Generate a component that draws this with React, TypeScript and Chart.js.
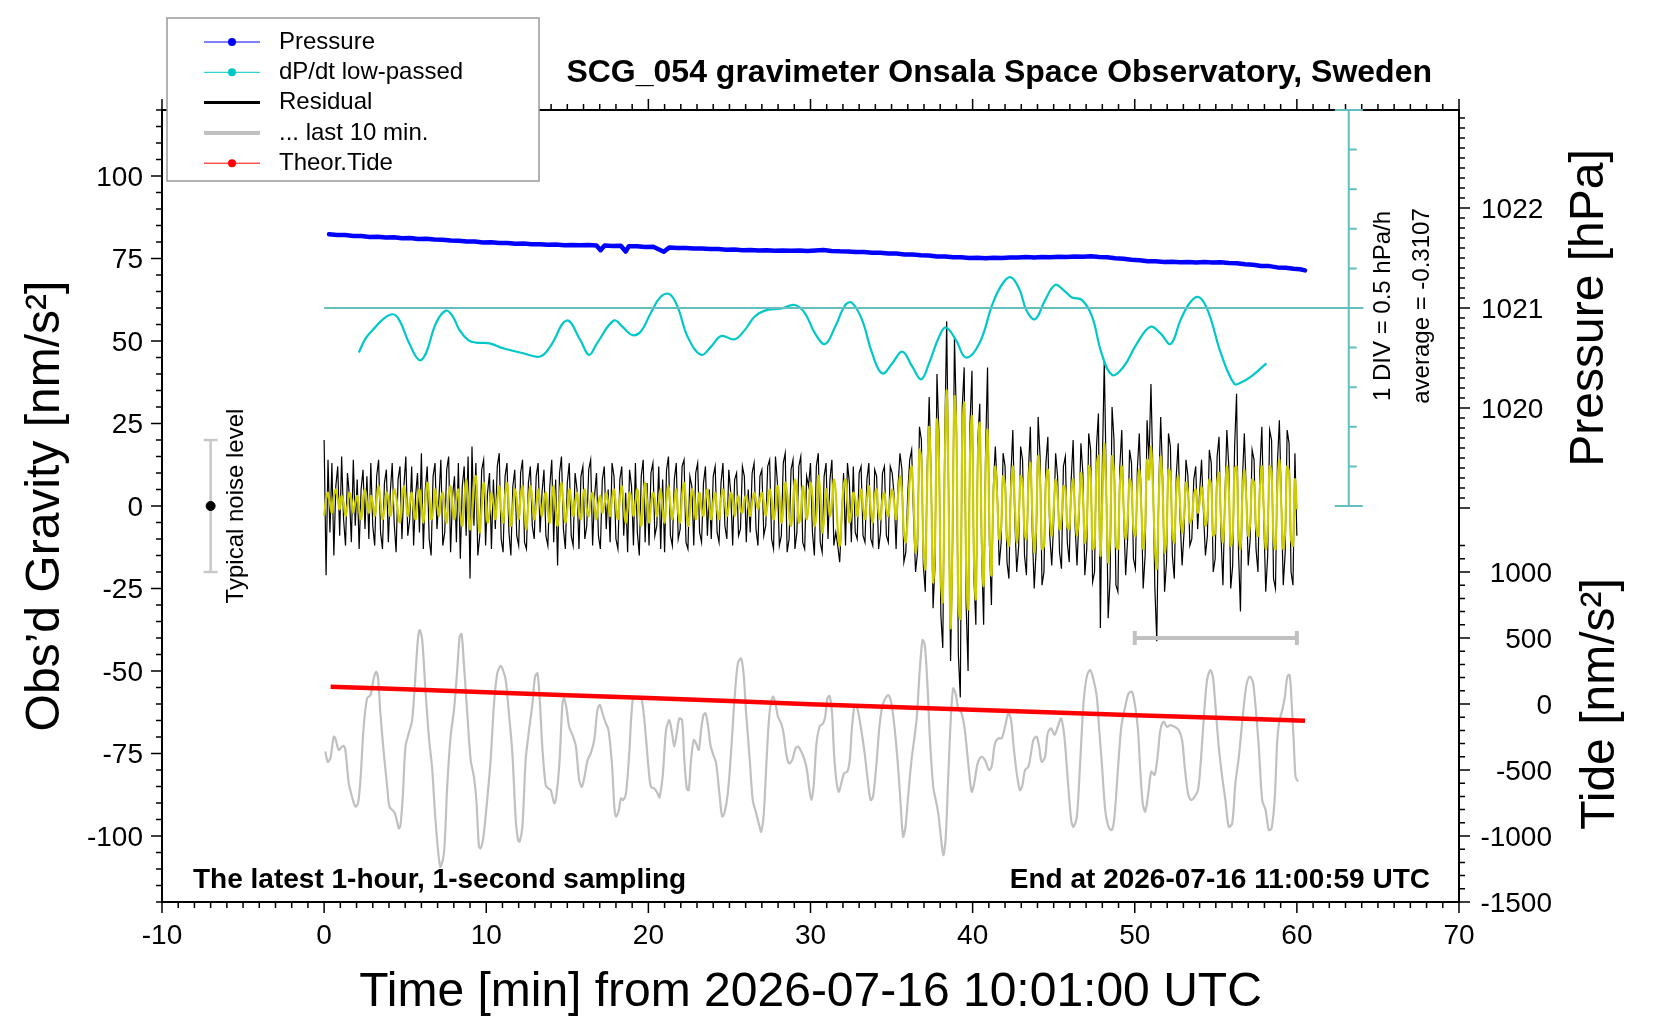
import { useEffect, useRef } from "react";
import Chart from "chart.js/auto";

const FONT = '"Liberation Sans", Arial, Helvetica, sans-serif';
const BLUE = "rgb(0, 0, 255)";
const CYAN = "rgb(0, 200, 200)";
const TEAL = "rgb(100, 190, 190)";
const GRAY = "rgb(192, 192, 192)";
const YELLOW = "rgb(205, 205, 0)";
const RED = "rgb(255, 0, 0)";

// residual gravity [nm/s^2], one value every 0.12 min from t = 0
const residualStep = 0.12;
const residual = [
  20, -21, 14, -8, 13, -15, 6, 12, -9, 15, -4, -12, 10, 3, -11, 14, -6, 8, -13, 5, 11, -7, 9, -10, 13,
  -6, -12, 9, 14, -8, -13, 7, 11, -11, 4, 13, -5, -14, 8, 12, -10, 6, 15, -9, -4, 12, -12, 3, 10, -8,
  16, -13, 5, 12, -10, -15, 9, 13, -7, 2, 14, -12, -8, 11, 15, -14, 3, 9, -11, 13, -16, 6, 12, -9, 15,
  -22, 18, -6, 13, -15, -9, 11, 14, -12, 4, 10, -13, 8, -7, 12, 16, -10, -14, 9, 13, -8, -15, 6, 11, -9,
  -12, 10, 14, -11, -13, 7, 12, -6, -10, 9, 13, -8, 4, 11, -9, -12, 6, 14, -11, 8, -18, 10, 15, -7, -13,
  7, 13, -9, -12, 10, 5, -13, 9, 12, -10, -6, 11, 14, -12, 3, 10, -9, -13, 8, 12, -7, 5, -11, 13, 9,
  -10, -13, 8, 12, -9, 4, -14, 11, 6, -12, 13, -8, -15, 9, 14, -11, 7, -12, 10, 13, -9, -6, 12, -13, 8,
  -14, 11, 15, -9, -12, 8, 13, -10, -7, 12, 14, -11, -13, 9, 6, -12, 10, 13, -8, -11, 7, 12, -9, 5, -10,
  9, 12, -8, -11, 7, 13, -6, -10, 11, 4, -12, 8, 10, -9, -7, 12, 9, -11, 5, -8, 10, 13, -7, -12, 9,
  11, -9, -6, 12, 14, -10, -13, 15, 7, -12, -9, 13, 16, -14, -10, 11, 14, -13, -8, 12, 15, -11, -13, 9, 6,
  13, -8, -15, 12, 16, -11, -14, 9, 13, -10, 8, 14, -12, -8, -12, -17, -4, 10, -12, 13, 7, -11, 12, -8, -10,
  10, 12, -9, -11, 8, 13, -10, -12, 11, 9, -13, -8, 10, 12, -9, -11, 12, 10, 3, -13, 6, 16, 11, -17, -14,
  4, 14, 17, -4, -20, -14, 24, 20, -18, -26, 12, 33, 9, -31, -18, 40, 22, -33, -43, 20, 56, 4, -47, -14, 51,
  26, -45, -58, 30, 42, -30, -50, 25, 41, -22, -36, 20, 31, -15, -36, 17, 42, -12, -30, 6, 18, 5, -18, -11, 16,
  12, -17, -22, 9, 23, -4, -20, -12, 18, 14, -15, -21, 10, 24, -8, -25, -13, 27, 15, -24, -20, 13, 21, -9, -18,
  -5, 16, 9, -14, -19, 12, 15, -11, -17, 8, 20, -6, -18, -3, 19, 10, -21, -13, 22, 17, -23, -20, 18, 28, -37,
  12, 44, 8, -34, -22, 30, 20, -24, -26, 12, 23, -3, -21, -10, 17, 13, -16, -19, 11, 22, 2, -25, -15, 26, 14,
  37, 10, -25, -41, 5, 27, 9, -26, -17, 22, 18, -15, -22, 9, 19, -4, -18, -8, 14, 9, -12, -10, 8, 12, -7,
  4, 14, -2, -15, -9, 17, 13, -20, -16, 15, 21, -9, -24, 2, 23, 12, -25, -18, 18, 34, -14, -32, 8, 22, 4,
  -18, -10, 17, 14, -13, -20, 11, 24, -4, -26, -15, 23, 20, -22, -25, 13, 26, 2, -24, -14, 23, 19, -20, -24, 16,
  -9,
];

// band-passed residual (yellow), same time grid
const filtered = [
  -3, 2, 4, 1, -2, 3, 5, 2, -1, 3, 1, -3, 0, 4, 2, -2, 1, 3, -1, -4, 2, 5, 1, -2, 3,
  1, -3, 2, 6, 1, -4, -1, 4, 2, -3, 0, 5, 3, -2, -5, 1, 6, 2, -3, 1, 4, -1, -4, 2, 5,
  0, -5, 1, 7, 3, -4, -2, 5, 1, -3, 2, 4, -1, -5, 3, 6, 0, -4, 2, 5, -2, -6, 1, 8, 2,
  -7, -3, 6, 9, -1, -8, 0, 7, 3, -5, -2, 4, 1, -4, 2, 6, -1, -5, 3, 7, 0, -6, -1, 5, 2,
  -4, 3, 6, -2, -7, 1, 6, 2, -4, 0, 5, 1, -3, 2, 4, -2, -5, 3, 6, -1, -6, 2, 7, 1, -5,
  -1, 5, 2, -3, 1, 4, -2, -4, 3, 5, -1, -3, 2, 4, 0, -4, 1, 3, -2, 0, 4, 1, -3, 2, 5,
  0, -4, 2, 6, 1, -5, -1, 4, 2, -3, 1, 5, -2, -6, 2, 7, 1, -5, 0, 4, 2, -3, 1, 5, -1,
  -5, 2, 6, 0, -4, 1, 5, -2, -5, 3, 7, 1, -6, -2, 5, 3, -4, 1, 4, -1, -3, 2, 5, 0, -4,
  1, 4, -1, -4, 2, 5, 1, -3, 0, 4, 2, -3, 1, 3, -1, -2, 2, 3, 0, -3, 1, 4, 2, -1, 2,
  4, 1, -3, 1, 5, 2, -4, -1, 6, 3, -5, -1, 7, 4, -3, -6, 1, 8, 3, -5, -2, 6, 2, -4, 0,
  7, 3, -6, -3, 9, 4, -8, -4, 5, 2, -3, 1, 8, 4, -7, -12, -3, 6, 8, 1, -5, -2, 4, 2, -3,
  1, 5, 0, -4, 2, 6, -1, -5, 3, 5, -2, -4, 2, 4, -1, -3, 2, 5, 1, -4, 3, 9, 4, -8, -11,
  -3, 8, 12, 2, -14, -9, 17, 14, -12, -19, 8, 24, 6, -23, -12, 26, 14, -22, -29, 12, 35, 2, -37, -8, 33,
  22, -30, -34, 20, 31, -18, -31, 15, 27, -15, -28, 14, 25, -10, -24, 10, 23, -7, -21, 3, 12, 2, -10, -6, 9,
  6, -9, -12, 4, 12, 1, -11, -4, 9, 7, -8, -10, 6, 13, -2, -14, -6, 15, 8, -13, -12, 7, 11, -3, -9,
  -1, 8, 3, -7, -4, 6, 5, -6, -7, 4, 8, -2, -9, -1, 10, 3, -11, -6, 12, 9, -13, -12, 11, 15, -15,
  2, 19, 4, -17, -9, 15, 10, -12, -13, 6, 12, -1, -10, -4, 8, 6, -7, -9, 5, 11, 0, -13, -6, 14, 8,
  18, 6, -12, -19, 2, 15, 5, -14, -9, 11, 10, -8, -11, 4, 9, 0, -8, -3, 7, 4, -5, -4, 3, 5, -2,
  1, 6, 1, -6, -3, 8, 6, -9, -8, 7, 10, -4, -11, 0, 12, 5, -12, -9, 11, 12, -7, -13, 3, 11, 2,
  -9, -5, 8, 7, -6, -9, 5, 12, -1, -13, -7, 12, 10, -10, -13, 6, 14, 0, -13, -7, 12, 10, -10, -12, 8,
  -1,
];

// last 10 min of the residual, stretched over the hour and shifted down: [t, nm/s^2]
const lastTenMin = [
  [0.07, -74.4], [0.22, -77.5], [0.38, -76.5], [0.59, -69.9], [0.69, -70.4], [0.9, -73.9], [1.1, -72.9], [1.21, -72.7],
  [1.31, -73.9], [1.52, -84.0], [1.72, -88.1], [1.93, -91.1], [2.09, -90.1], [2.24, -83.0], [2.44, -66.9], [2.65, -58.3],
  [2.86, -57.3], [3.06, -52.2], [3.21, -50.2], [3.33, -52.2], [3.47, -62.8], [3.68, -74.9], [3.89, -85.0], [4.03, -91.1],
  [4.3, -92.6], [4.4, -93.6], [4.61, -97.7], [4.71, -96.7], [4.85, -88.1], [5.02, -72.9], [5.22, -68.9], [5.43, -64.9],
  [5.64, -50.7], [5.8, -39.6], [5.9, -37.6], [6.05, -40.6], [6.25, -55.8], [6.46, -69.9], [6.67, -80.0], [6.87, -95.2],
  [7.16, -109.3], [7.39, -105.3], [7.59, -85.1], [7.8, -69.9], [8.01, -61.8], [8.21, -49.7], [8.36, -39.6], [8.48, -38.8],
  [8.62, -47.7], [8.83, -62.8], [9.04, -77.0], [9.24, -82.0], [9.39, -89.1], [9.55, -103.2], [9.65, -103.7], [9.8, -101.2],
  [9.96, -94.1], [10.13, -85.1], [10.27, -77.0], [10.48, -59.8], [10.68, -50.7], [10.89, -48.5], [11.03, -49.7], [11.2, -52.7],
  [11.36, -60.8], [11.61, -74.9], [11.82, -95.2], [11.96, -101.2], [12.06, -101.7], [12.23, -97.2], [12.43, -77.0], [12.64, -67.9],
  [12.85, -59.8], [13.01, -51.7], [13.16, -50.7], [13.3, -58.8], [13.47, -73.9], [13.67, -84.6], [13.84, -85.6], [13.98, -86.1],
  [14.19, -90.1], [14.29, -89.1], [14.5, -79.0], [14.7, -59.8], [14.8, -58.3], [14.95, -61.3], [15.11, -66.9], [15.32, -69.4],
  [15.53, -72.9], [15.73, -83.0], [15.9, -85.1], [16.1, -81.0], [16.25, -77.0], [16.45, -74.9], [16.66, -70.9], [16.86, -61.8],
  [17.01, -60.3], [17.17, -62.8], [17.38, -65.9], [17.54, -67.9], [17.75, -78.0], [17.9, -91.1], [18.0, -94.1], [18.16, -92.6],
  [18.31, -88.6], [18.45, -89.1], [18.62, -87.1], [18.82, -74.9], [19.03, -58.8], [19.23, -57.8], [19.44, -58.3], [19.6, -58.8],
  [19.81, -67.9], [20.02, -80.0], [20.16, -85.1], [20.37, -85.6], [20.57, -87.1], [20.68, -88.3], [20.88, -82.0], [21.09, -67.9],
  [21.29, -64.9], [21.46, -68.9], [21.6, -72.9], [21.75, -68.9], [21.91, -64.4], [22.08, -64.9], [22.22, -77.0], [22.37, -85.6],
  [22.49, -86.1], [22.63, -77.0], [22.8, -70.9], [22.94, -71.9], [23.11, -73.9], [23.25, -67.9], [23.4, -63.3], [23.52, -62.8],
  [23.66, -65.9], [23.83, -72.4], [24.01, -75.5], [24.18, -78.0], [24.38, -87.1], [24.55, -94.1], [24.69, -93.1], [24.9, -87.1],
  [25.11, -73.9], [25.31, -58.8], [25.52, -47.7], [25.72, -46.2], [25.87, -50.7], [26.03, -62.8], [26.24, -76.0], [26.44, -89.1],
  [26.65, -93.1], [26.86, -97.2], [26.96, -98.7], [27.12, -93.1], [27.27, -79.0], [27.47, -62.8], [27.68, -57.8], [27.84, -59.8],
  [27.99, -63.8], [28.19, -65.9], [28.34, -68.9], [28.5, -74.9], [28.67, -78.0], [28.87, -77.0], [29.08, -73.4], [29.22, -72.9],
  [29.43, -74.4], [29.64, -77.0], [29.78, -80.0], [29.91, -85.1], [30.05, -89.1], [30.19, -85.1], [30.36, -72.4], [30.56, -66.9],
  [30.77, -65.9], [30.91, -63.8], [31.04, -58.3], [31.18, -57.6], [31.33, -62.8], [31.45, -74.9], [31.59, -83.0], [31.74, -86.6],
  [31.9, -84.0], [32.07, -81.0], [32.27, -80.5], [32.42, -77.0], [32.56, -66.9], [32.73, -60.3], [32.89, -61.3], [33.1, -66.9],
  [33.34, -74.9], [33.55, -84.0], [33.71, -89.1], [33.86, -88.1], [34.07, -78.0], [34.27, -65.9], [34.48, -59.8], [34.79, -57.3],
  [34.99, -59.8], [35.2, -67.9], [35.4, -79.0], [35.57, -91.1], [35.71, -100.2], [35.86, -97.2], [36.02, -88.1], [36.23, -77.0],
  [36.54, -64.9], [36.74, -49.7], [36.91, -40.6], [37.05, -42.1], [37.22, -54.8], [37.36, -69.9], [37.57, -85.1], [37.77, -90.1],
  [37.88, -93.1], [38.04, -100.2], [38.19, -105.8], [38.33, -101.2], [38.49, -83.0], [38.66, -63.8], [38.8, -55.3], [38.95, -56.8],
  [39.11, -61.3], [39.32, -62.8], [39.52, -67.9], [39.73, -78.0], [39.94, -86.6], [40.1, -84.0], [40.31, -78.0], [40.55, -76.0],
  [40.76, -77.0], [41.01, -80.0], [41.17, -79.0], [41.38, -71.9], [41.58, -70.4], [41.79, -70.4], [42.0, -66.9], [42.2, -62.8],
  [42.37, -64.9], [42.53, -72.9], [42.72, -81.0], [42.92, -86.1], [43.07, -84.6], [43.23, -80.0], [43.44, -79.0], [43.6, -74.9],
  [43.75, -70.9], [43.95, -69.9], [44.1, -72.9], [44.26, -77.5], [44.47, -76.0], [44.63, -68.9], [44.84, -67.4], [45.05, -69.4],
  [45.25, -66.9], [45.46, -64.4], [45.66, -69.9], [45.87, -83.0], [46.08, -95.2], [46.22, -97.2], [46.43, -94.1], [46.63, -78.0],
  [46.84, -59.8], [47.04, -51.7], [47.25, -49.7], [47.46, -52.7], [47.66, -57.8], [47.81, -67.9], [47.97, -78.0], [48.18, -92.1],
  [48.38, -97.2], [48.59, -98.2], [48.75, -94.1], [48.96, -80.0], [49.17, -66.9], [49.41, -60.8], [49.62, -56.8], [49.83, -56.3],
  [50.03, -60.8], [50.2, -67.9], [50.34, -80.0], [50.49, -90.1], [50.65, -92.6], [50.86, -86.1], [51.02, -80.5], [51.23, -81.5],
  [51.43, -74.9], [51.58, -67.9], [51.78, -65.4], [51.99, -66.9], [52.19, -66.4], [52.46, -66.9], [52.71, -67.9], [52.92, -70.9],
  [53.08, -79.0], [53.29, -87.1], [53.49, -89.1], [53.7, -88.1], [53.9, -86.1], [54.05, -79.0], [54.25, -64.9], [54.46, -52.7],
  [54.67, -49.7], [54.83, -52.2], [54.98, -60.8], [55.18, -72.9], [55.39, -82.0], [55.59, -89.1], [55.8, -97.2], [56.01, -96.2],
  [56.21, -84.0], [56.42, -76.0], [56.62, -65.9], [56.87, -54.8], [57.08, -51.7], [57.28, -53.2], [57.45, -60.8], [57.65, -72.9],
  [57.86, -89.1], [58.07, -92.1], [58.27, -98.2], [58.44, -97.7], [58.64, -88.1], [58.79, -70.9], [58.93, -64.9], [59.1, -61.8],
  [59.26, -57.8], [59.41, -51.7], [59.55, -51.2], [59.67, -58.8], [59.82, -72.9], [59.92, -82.0], [60.07, -83.5],
];

// dP/dt low-passed, in plot units: 60 is zero, 12 units (1 DIV) = 0.5 hPa/h
const dpdtTrace = [
  [2.14, 46.5], [2.56, 50.8], [3.18, 54.3], [3.59, 56.4], [4.21, 58.1], [4.63, 56.4], [5.25, 49.3], [5.87, 44.2],
  [6.28, 46.3], [6.9, 55.4], [7.52, 59.2], [7.94, 57.4], [8.35, 53.3], [8.89, 50.3], [9.39, 49.5], [10.21, 49.3],
  [11.04, 47.8], [12.28, 46.3], [13.32, 45.3], [13.94, 48.3], [14.97, 56.2], [15.8, 50.3], [16.34, 45.8], [16.83, 49.3],
  [17.87, 56.2], [18.41, 54.3], [18.99, 51.8], [19.52, 52.8], [20.14, 58.4], [20.76, 63.4], [21.3, 64.2], [21.8, 60.4],
  [22.42, 51.3], [23.25, 45.8], [23.87, 48.3], [24.49, 51.5], [25.31, 50.5], [25.94, 53.3], [26.56, 57.4], [27.18, 59.2],
  [28.21, 59.9], [29.04, 60.9], [29.66, 58.4], [30.28, 52.3], [30.9, 49.1], [31.52, 54.3], [32.14, 60.9], [32.55, 61.6],
  [33.18, 56.4], [33.8, 46.3], [34.42, 40.2], [35.04, 43.2], [35.66, 46.8], [36.28, 42.2], [36.82, 38.4], [37.31, 43.2],
  [37.93, 51.3], [38.35, 54.1], [38.97, 50.3], [39.59, 45.0], [40.42, 49.3], [41.24, 61.4], [41.86, 67.5], [42.36, 69.3],
  [42.9, 65.5], [43.31, 59.4], [43.85, 56.6], [44.47, 62.4], [45.09, 67.0], [45.59, 65.5], [46.13, 63.2], [46.75, 62.4],
  [47.37, 57.4], [47.95, 46.3], [48.61, 39.7], [49.31, 42.2], [50.14, 49.3], [50.97, 54.3], [51.59, 52.3], [52.21, 49.1],
  [52.83, 56.4], [53.45, 61.9], [53.99, 63.2], [54.57, 58.4], [55.31, 46.3], [56.14, 37.0], [56.55, 37.4], [57.17, 39.2],
  [58.12, 43.2],
];

// air pressure [hPa]
const pressureTime = [
  0.3, 0.8, 1.3, 1.8, 2.3, 2.8, 3.3, 3.8, 4.3, 4.8, 5.3, 5.8, 6.3, 6.8, 7.3, 7.8, 8.3, 8.8, 9.3, 9.8,
  10.3, 10.8, 11.3, 11.8, 12.3, 12.8, 13.3, 13.8, 14.3, 14.8, 15.3, 15.8, 16.3, 16.8, 17.05, 17.3, 17.8,
  18.3, 18.6, 18.8, 19.3, 19.8, 20.3, 20.95, 21.3, 21.8, 22.3, 22.8, 23.3, 23.8, 24.3, 24.8, 25.3, 25.8,
  26.3, 26.8, 27.3, 27.8, 28.3, 28.8, 29.3, 29.8, 30.3, 30.8, 31.3, 31.8, 32.3, 32.8, 33.3, 33.8, 34.3,
  34.8, 35.3, 35.8, 36.3, 36.8, 37.3, 37.8, 38.3, 38.8, 39.3, 39.8, 40.3, 40.8, 41.3, 41.8, 42.3, 42.8,
  43.3, 43.8, 44.3, 44.8, 45.3, 45.8, 46.3, 46.8, 47.3, 47.8, 48.3, 48.8, 49.3, 49.8, 50.3, 50.8, 51.3,
  51.8, 52.3, 52.8, 53.3, 53.8, 54.3, 54.8, 55.3, 55.8, 56.3, 56.8, 57.3, 57.8, 58.3, 58.8, 59.3, 59.8,
  60.2, 60.5,
];
const pressureHpa = [
  1021.738, 1021.731, 1021.729, 1021.72, 1021.719, 1021.711, 1021.713, 1021.705, 1021.707, 1021.698,
  1021.699, 1021.69, 1021.692, 1021.684, 1021.683, 1021.674, 1021.673, 1021.665, 1021.664, 1021.656,
  1021.657, 1021.65, 1021.651, 1021.643, 1021.645, 1021.637, 1021.638, 1021.632, 1021.634, 1021.627,
  1021.629, 1021.628, 1021.631, 1021.624, 1021.578, 1021.625, 1021.621,
  1021.623, 1021.565, 1021.618, 1021.617, 1021.611, 1021.613, 1021.562, 1021.606, 1021.601, 1021.601,
  1021.595, 1021.596, 1021.59, 1021.589, 1021.583, 1021.584, 1021.578,
  1021.579, 1021.575, 1021.577, 1021.573, 1021.576, 1021.572, 1021.575, 1021.571, 1021.576, 1021.58,
  1021.571, 1021.567, 1021.566, 1021.559, 1021.56, 1021.553, 1021.552,
  1021.545, 1021.545, 1021.536, 1021.535, 1021.527, 1021.526, 1021.516, 1021.514, 1021.508, 1021.507,
  1021.501, 1021.503, 1021.497, 1021.502, 1021.5, 1021.505, 1021.504,
  1021.509, 1021.506, 1021.511, 1021.508, 1021.512, 1021.51, 1021.514, 1021.512, 1021.517, 1021.511,
  1021.508, 1021.498, 1021.493, 1021.482, 1021.478, 1021.468, 1021.467,
  1021.461, 1021.463, 1021.458, 1021.461, 1021.456, 1021.459, 1021.454, 1021.457, 1021.449, 1021.447,
  1021.438, 1021.433, 1021.421, 1021.419, 1021.406, 1021.403, 1021.392,
  1021.388, 1021.376,
];

// theoretical tide [nm/s^2]
const tideTime = [0.4, 5, 10, 15, 20, 25, 30, 35, 40, 45, 50, 55, 60.5];
const tideValue = [131, 111, 89, 67, 45, 22, -2, -23, -44, -64, -85, -105, -126];

const dpdtZero = 60;
const dpdtZeroSpan = [0, 64.1];
const divAxisAt = 63.2;
const divStep = 12;
const divCount = 10;
const noiseAt = -7;
const noiseLevel = 20;
const lastTenSpan = [50, 60];
const lastTenLevel = -40;

const pressureLabels = [1020, 1021, 1022];
const tideLabels = [1000, 500, 0, -500, -1000, -1500];

const legendItems = [
  { label: "Pressure", color: BLUE, width: 1, dot: true },
  { label: "dP/dt low-passed", color: CYAN, width: 1, dot: true },
  { label: "Residual", color: "#000", width: 3, dot: false },
  { label: "... last 10 min.", color: GRAY, width: 4, dot: false },
  { label: "Theor.Tide", color: RED, width: 1, dot: true },
];

function put(ctx: any, s: string, x: number, y: number, font: string, align = "left", rot = 0) {
  ctx.save();
  ctx.translate(x, y);
  if (rot) ctx.rotate(rot);
  ctx.font = font;
  ctx.textAlign = align;
  ctx.textBaseline = "middle";
  ctx.fillStyle = "#000";
  ctx.fillText(s, 0, 0);
  ctx.restore();
}

const decor = {
  id: "decor",
  afterDraw(chart: any) {
    const { ctx, chartArea: a, scales } = chart;
    const { x, y, pres, tide } = scales;
    ctx.save();

    // frame and ticks
    ctx.strokeStyle = "#000";
    ctx.lineWidth = 2;
    ctx.strokeRect(a.left, a.top, a.right - a.left, a.bottom - a.top);
    ctx.lineWidth = 1.5;
    ctx.beginPath();
    for (let v = -10; v <= 70; v++) {
      const px = x.getPixelForValue(v);
      const len = v % 10 === 0 ? 11 : 6;
      ctx.moveTo(px, a.bottom);
      ctx.lineTo(px, a.bottom + len);
      ctx.moveTo(px, a.top);
      ctx.lineTo(px, a.top - len);
    }
    for (let v = -120; v <= 120; v += 5) {
      const py = y.getPixelForValue(v);
      const len = v % 25 === 0 ? 11 : 6;
      ctx.moveTo(a.left, py);
      ctx.lineTo(a.left - len, py);
    }
    for (let k = 10190; k <= 10229; k++) {
      const py = pres.getPixelForValue(k / 10);
      const len = k % 10 === 0 ? 11 : 6;
      ctx.moveTo(a.right, py);
      ctx.lineTo(a.right + len, py);
    }
    for (let v = -1500; v <= 1200; v += 100) {
      const py = tide.getPixelForValue(v);
      const len = v % 500 === 0 ? 11 : 6;
      ctx.moveTo(a.right, py);
      ctx.lineTo(a.right + len, py);
    }
    ctx.stroke();

    // tide labels and right titles
    for (const v of tideLabels) {
      put(ctx, String(v), a.right + 93, tide.getPixelForValue(v) + 2, `28px ${FONT}`, "right");
    }
    put(ctx, "Pressure [hPa]", a.right + 131, pres.getPixelForValue(1021), `48px ${FONT}`, "center", -Math.PI / 2);
    put(ctx, "Tide [nm/s²]", a.right + 142, tide.getPixelForValue(0), `48px ${FONT}`, "center", -Math.PI / 2);

    // dP/dt scale bar
    const dx = x.getPixelForValue(divAxisAt);
    const y0 = y.getPixelForValue(0);
    const y1 = y.getPixelForValue(divStep * divCount);
    ctx.strokeStyle = TEAL;
    ctx.lineWidth = 2;
    ctx.beginPath();
    ctx.moveTo(dx, y0);
    ctx.lineTo(dx, y1);
    ctx.moveTo(dx - 14, y0);
    ctx.lineTo(dx + 14, y0);
    ctx.moveTo(dx - 14, y1);
    ctx.lineTo(dx + 14, y1);
    for (let i = 1; i < divCount; i++) {
      const py = y.getPixelForValue(i * divStep);
      ctx.moveTo(dx, py);
      ctx.lineTo(dx + 8, py);
    }
    ctx.stroke();
    const ym = y.getPixelForValue(dpdtZero) - 2;
    put(ctx, "1 DIV = 0.5 hPa/h", dx + 35, ym, `24px ${FONT}`, "center", -Math.PI / 2);
    put(ctx, "average = -0.3107", dx + 74, ym, `24px ${FONT}`, "center", -Math.PI / 2);

    put(ctx, "Typical noise level", x.getPixelForValue(noiseAt) + 26, y.getPixelForValue(0), `24px ${FONT}`, "center", -Math.PI / 2);

    // titles inside and above the frame
    put(ctx, "SCG_054 gravimeter Onsala Space Observatory, Sweden", a.right - 27, 73, `bold 32px ${FONT}`, "right");
    put(ctx, "The latest 1-hour, 1-second sampling", a.left + 31, a.bottom - 22, `bold 28px ${FONT}`, "left");
    put(ctx, "End at 2026-07-16 11:00:59 UTC", a.right - 29, a.bottom - 22, `bold 28px ${FONT}`, "right");

    // legend box
    ctx.fillStyle = "#fff";
    ctx.fillRect(167, 18, 372, 163);
    ctx.strokeStyle = "#999";
    ctx.lineWidth = 1.5;
    ctx.strokeRect(167, 18, 372, 163);
    legendItems.forEach((it, i) => {
      const ly = 42 + i * 30.3;
      ctx.strokeStyle = it.color;
      ctx.lineWidth = it.width;
      ctx.beginPath();
      ctx.moveTo(204, ly);
      ctx.lineTo(260, ly);
      ctx.stroke();
      if (it.dot) {
        ctx.fillStyle = it.color;
        ctx.beginPath();
        ctx.arc(232, ly, 4, 0, Math.PI * 2);
        ctx.fill();
      }
      put(ctx, it.label, 279, ly, `24px ${FONT}`, "left");
    });
    ctx.restore();
  },
};

export default function App() {
  const ref = useRef<HTMLCanvasElement>(null);

  useEffect(() => {
    let chart: Chart | undefined;
    if (ref.current) {
      Chart.defaults.font.family = FONT;
      const plain = { pointRadius: 0, fill: false, tension: 0 };

      chart = new Chart(ref.current, {
        type: "line",
        data: {
          datasets: [
            {
              ...plain,
              data: [{ x: noiseAt, y: -noiseLevel }, { x: noiseAt, y: noiseLevel }],
              borderColor: "rgb(200, 200, 200)",
              borderWidth: 2.5,
              pointStyle: "line",
              pointRadius: 7,
              pointBorderWidth: 2.5,
              pointBorderColor: "rgb(200, 200, 200)",
              order: 1,
            },
            {
              data: [{ x: noiseAt, y: 0 }],
              showLine: false,
              pointRadius: 4.5,
              pointBackgroundColor: "#000",
              pointBorderColor: "#000",
              order: 0,
            },
            {
              ...plain,
              data: lastTenSpan.map((t) => ({ x: t, y: lastTenLevel })),
              borderColor: GRAY,
              borderWidth: 4,
              pointStyle: "line",
              pointRotation: 90,
              pointRadius: 7,
              pointBorderWidth: 4,
              pointBorderColor: GRAY,
              order: 2,
            },
            {
              ...plain,
              data: dpdtZeroSpan.map((t) => ({ x: t, y: dpdtZero })),
              borderColor: TEAL,
              borderWidth: 2,
              order: 3,
            },
            {
              ...plain,
              data: pressureTime.map((t, i) => ({ x: t, y: pressureHpa[i] })),
              yAxisID: "pres",
              borderColor: BLUE,
              borderWidth: 4.5,
              borderJoinStyle: "round",
              borderCapStyle: "round",
              order: 4,
            },
            {
              ...plain,
              data: dpdtTrace.map(([t, v]) => ({ x: t, y: v })),
              borderColor: CYAN,
              borderWidth: 2.2,
              tension: 0.4,
              order: 5,
            },
            {
              ...plain,
              data: filtered.map((v, i) => ({ x: i * residualStep, y: v })),
              borderColor: YELLOW,
              borderWidth: 2.2,
              tension: 0.35,
              order: 6,
            },
            {
              ...plain,
              data: residual.map((v, i) => ({ x: i * residualStep, y: v })),
              borderColor: "#000",
              borderWidth: 1.2,
              order: 7,
            },
            {
              ...plain,
              data: tideTime.map((t, i) => ({ x: t, y: tideValue[i] })),
              yAxisID: "tide",
              borderColor: RED,
              borderWidth: 4.5,
              order: 8,
            },
            {
              ...plain,
              data: lastTenMin.map(([t, v]) => ({ x: t, y: v })),
              borderColor: GRAY,
              borderWidth: 2.2,
              tension: 0.3,
              order: 9,
            },
          ],
        },
        options: {
          animation: false,
          responsive: false,
          devicePixelRatio: 1,
          events: [],
          layout: { padding: { top: 110, right: 81, bottom: 0, left: 0 } },
          plugins: { legend: { display: false }, tooltip: { enabled: false } },
          scales: {
            x: {
              type: "linear",
              min: -10,
              max: 70,
              grid: { display: false, drawTicks: false },
              border: { display: false },
              ticks: { stepSize: 10, includeBounds: false, padding: 17, color: "#000", font: { size: 28 } },
              title: {
                display: true,
                text: "Time [min] from 2026-07-16 10:01:00 UTC",
                color: "#000",
                font: { size: 48 },
                padding: { top: 0, bottom: -2 },
              },
              afterFit: (s: any) => {
                s.height = 118;
              },
            },
            y: {
              type: "linear",
              position: "left",
              min: -120,
              max: 120,
              grid: { display: false, drawTicks: false },
              border: { display: false },
              ticks: {
                stepSize: 25,
                includeBounds: false,
                padding: 19,
                labelOffset: 2,
                color: "#000",
                font: { size: 28 },
              },
              title: {
                display: true,
                text: "Obs’d Gravity [nm/s²]",
                color: "#000",
                font: { size: 48 },
                padding: { top: 17, bottom: 0 },
              },
              afterFit: (s: any) => {
                s.width = 162;
              },
            },
            pres: {
              type: "linear",
              position: "right",
              min: 1015.06,
              max: 1022.98,
              grid: { display: false, drawTicks: false },
              border: { display: false },
              ticks: {
                stepSize: 1,
                includeBounds: false,
                padding: 22,
                labelOffset: 2,
                color: "#000",
                font: { size: 28 },
                callback: (v: any) => (pressureLabels.includes(Number(v)) ? String(v) : null),
              },
              afterFit: (s: any) => {
                s.width = 120;
              },
            },
            tide: {
              type: "linear",
              position: "right",
              display: false,
              min: -1500,
              max: 4500,
            },
          },
        },
        plugins: [decor],
      } as any);
    }
    return () => {
      chart?.destroy();
    };
  }, []);

  return (
    <div style={{ position: "absolute", left: 0, top: 0, width: 1660, height: 1020, background: "#fff" }}>
      <canvas ref={ref} width={1660} height={1020} />
    </div>
  );
}
